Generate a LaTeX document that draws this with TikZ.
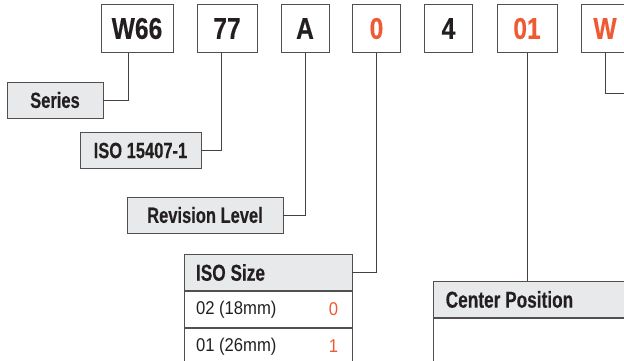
\documentclass[tikz,border=0pt]{standalone}
\usepackage{fontspec}
\usepackage{tikz}
\usetikzlibrary{positioning}
\newfontfamily\condsans[FakeStretch=0.75,FakeBold=0.3]{Liberation Sans}
\newfontfamily\conddigit[FakeStretch=0.82,FakeBold=0.3]{Liberation Sans}
\newfontfamily\condlight[FakeStretch=0.9]{Liberation Sans}
\definecolor{ink}{HTML}{231F20}
\definecolor{codeorange}{HTML}{EE5A33}
\definecolor{hdrgray}{HTML}{E8E9EA}
\definecolor{edgegray}{HTML}{505050}

\begin{document}
\begin{tikzpicture}[x=1pt,y=-1pt,
  digit/.style={draw=edgegray,line width=0.9pt,minimum height=48pt,inner sep=0pt,text=ink,font=\conddigit\bfseries\fontsize{30}{31}\selectfont},
  tag/.style={draw=edgegray,line width=0.9pt,fill=hdrgray,minimum height=36pt,inner sep=0pt,text=ink,font=\condsans\bfseries\fontsize{22}{23}\selectfont},
  hdr/.style={draw=edgegray,line width=0.9pt,fill=hdrgray,minimum height=36pt,inner xsep=12pt,inner ysep=0pt,align=flush left,text=ink,font=\condsans\bfseries\fontsize{23}{24}\selectfont},
  cell/.style={hdr,fill=white,font=\condlight\fontsize{18.5}{20}\selectfont},
  code/.style={inner sep=0pt,text=codeorange,font=\condlight\fontsize{18.5}{20}\selectfont},
  link/.style={draw=ink!85,line width=0.8pt}]
\useasboundingbox (0,0) rectangle (624,360);
\clip (0,0) rectangle (624,360);
% code digits
\node[digit,minimum width=72pt] (w66) at (137,28.5) {W66};
\node[digit,minimum width=60pt] (n77) at (227,28.5) {77};
\node[digit,minimum width=48pt] (rev) at (305,28.5) {A};
\node[digit,minimum width=48pt,text=codeorange] (siz) at (376.5,28.5) {0};
\node[digit,minimum width=48pt] (n4) at (448.5,28.5) {4};
\node[digit,minimum width=60pt,text=codeorange] (pos) at (527,28.5) {01};
\node[digit,minimum width=48pt,text=codeorange] (wop) at (605,28.5) {W};
% labels
\node[tag,minimum width=96pt] (series) at (55,100) {Series};
\node[tag,minimum width=121pt] (iso) at (140.5,150.5) {ISO 15407-1};
\node[tag,minimum width=156pt] (revlvl) at (205,215) {Revision Level};
% size table
\node[hdr,text width=144pt] (isosize) at (268,272.5) {ISO Size};
\node[cell,text width=144pt,below=0pt of isosize] (sz02) {02 (18mm)};
\node[cell,text width=144pt,below=0pt of sz02] (sz01) {01 (26mm)};
\node[code,left=14pt of sz02.east] (c02) {0};
\node[code,left=14pt of sz01.east] (c01) {1};
% position table
\node[hdr,text width=176pt,anchor=north west] (cenpos) at (433.3,281) {Center Position};
\node[cell,text width=176pt,minimum height=60pt,below=0pt of cenpos] (cp1) {};
% connectors
\coordinate (wout) at (640,93.3);
\draw[link] (w66.south) ++(-9,0) |- (series.east);
\draw[link] (n77.south) ++(-6,0) |- (iso.east);
\draw[link] (rev.south) |- (revlvl.east);
\draw[link] (siz.south) |- (isosize.east);
\draw[link] (pos.south) -- (pos.south |- cenpos.north);
\draw[link] (wop.south) |- (wout);
\end{tikzpicture}
\end{document}
